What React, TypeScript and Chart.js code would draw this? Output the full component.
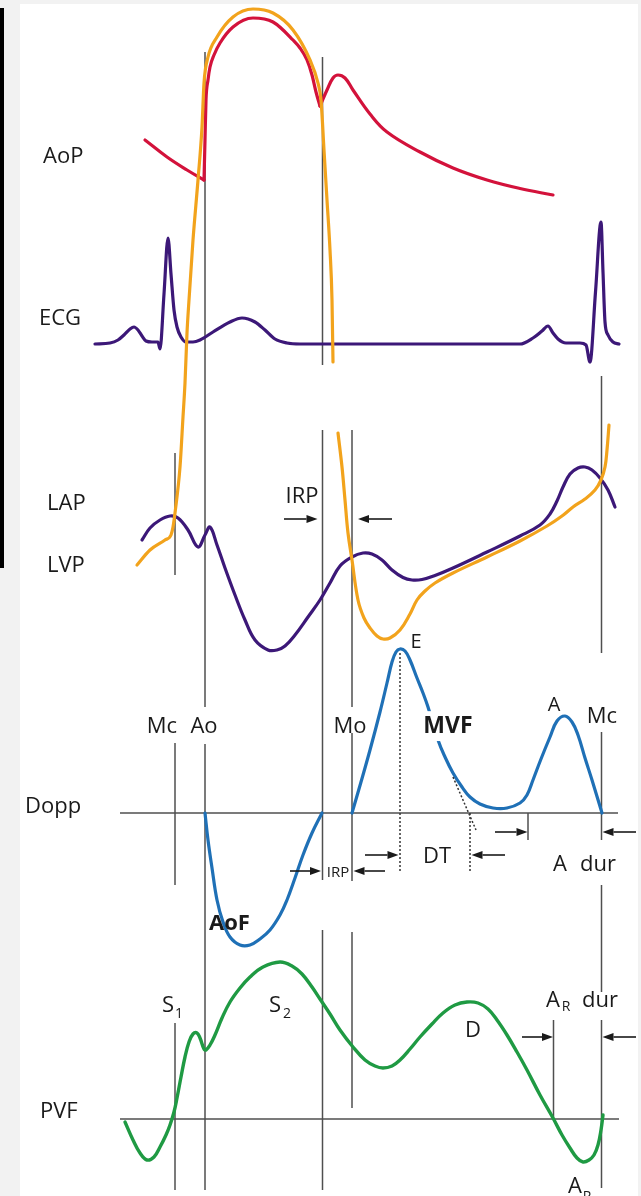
import { useEffect, useRef } from "react";
import { Chart, registerables } from "chart.js";

Chart.register(...registerables);

type Pt = [number, number];

// Cardiac events, ms after mitral valve closure
const MC = 0;
const AO = 60;
const AC = 295;
const MO = 354;
const MC_NEXT = 853;

// Time window shown (ms)
const T_MIN = -350;
const T_MAX = 932;

// Aortic pressure (mmHg-like units)
const aopLateDiastole: Pt[] = [[-60, 104], [-16, 100.6], [24, 98], [58, 96]];
const aopEjection: Pt[] = [
  [58, 96], [60, 104], [62, 112], [66, 116], [70, 118.6], [78, 121], [90, 123.4],
  [116, 126.6], [156, 128.4], [196, 127.6], [236, 124], [250, 122.4], [264, 120],
  [274, 117], [282, 113.6], [290, 110.8],
];
const aopDiastole: Pt[] = [
  [290, 110.8], [304, 114], [316, 116.4], [326, 117], [340, 116.4], [356, 114],
  [390, 109.2], [424, 105.6], [490, 101.6], [556, 98.4], [624, 96], [690, 94.3], [756, 93],
];

// Left ventricular pressure
const lvpSystole: Pt[] = [
  [-76, 19], [-50, 22], [-20, 24], [-8, 25], [-4, 26.6], [0, 29.4], [10, 38.6],
  [16, 48.6], [20, 55.4], [24, 65.4], [28, 72], [36, 84], [46, 96], [54, 106.6],
  [58, 115.4], [66, 120.6], [84, 124.6], [116, 128.6], [156, 130.2], [196, 129.4],
  [236, 126], [270, 120], [286, 115.4], [292, 112], [298, 102], [304, 92], [310, 82],
  [314, 72], [316, 59.6],
];
const lvpDiastole: Pt[] = [
  [326, 45.4], [334, 38.6], [340, 32], [346, 25.4], [354, 20], [366, 12], [378, 8.4],
  [390, 6.4], [404, 4.8], [416, 4.2], [430, 4.4], [450, 6], [470, 9.2], [484, 12],
  [500, 13.8], [520, 15.4], [556, 17.4], [624, 20.6], [690, 23.8], [744, 26.8],
  [774, 28.8], [796, 30.6], [820, 32.2], [840, 34], [852, 36], [860, 38.6], [864, 42],
  [868, 47],
];

// Left atrial pressure
const lap: Pt[] = [
  [-66, 24], [-50, 26.4], [-30, 28], [-10, 28.8], [6, 28.4], [26, 26], [46, 22.6],
  [60, 25], [70, 26.6], [84, 23], [100, 18.4], [120, 13], [140, 8], [160, 4], [186, 2],
  [204, 2], [220, 2.8], [240, 5], [266, 8.6], [290, 12], [310, 15.4], [330, 18.8],
  [354, 20.6], [376, 21.4], [394, 21.2], [414, 20], [434, 18], [456, 16.5], [474, 16],
  [494, 16.1], [520, 16.9], [556, 18.4], [624, 21.6], [690, 24.8], [730, 27], [750, 29.2],
  [764, 31.8], [776, 34.6], [790, 37.2], [806, 38.4], [820, 38.6], [834, 38], [850, 36.4],
  [866, 34], [880, 30.6],
];

// ECG (mV)
const ecg: Pt[] = [
  [-160, 0], [-130, 0.01], [-114, 0.04], [-102, 0.09], [-90, 0.15], [-82, 0.17], [-74, 0.14],
  [-66, 0.08], [-58, 0.03], [-46, 0.02], [-34, 0.02], [-30, -0.05], [-22, 0.5], [-14, 1.06],
  [-8, 0.7], [-2, 0.34], [4, 0.17], [12, 0.07], [22, 0.02], [36, 0.02], [50, 0.04], [76, 0.12],
  [110, 0.22], [134, 0.26], [160, 0.22], [180, 0.14], [200, 0.05], [224, 0.01], [250, 0],
  [690, 0], [716, 0.06], [734, 0.13], [746, 0.18], [756, 0.11], [766, 0.05], [782, 0.01],
  [810, 0.01], [822, -0.01], [830, -0.18], [841, 0.52], [852, 1.22], [856, 0.72], [860, 0.22],
  [866, 0.09], [876, 0.02], [888, 0],
];

// Doppler velocities (cm/s): aortic outflow and mitral inflow
const aorticFlow: Pt[] = [
  [60, 0], [66, -13.5], [74, -27.5], [84, -43.5], [96, -54.5], [110, -62], [130, -66],
  [150, -66], [170, -63], [190, -58.5], [210, -51], [224, -43.5], [240, -32.5], [256, -21],
  [274, -10], [294, 0],
];
const mitralFlow: Pt[] = [
  [354, 0], [372, 15.5], [390, 31.5], [410, 50.5], [424, 65], [434, 75.5], [442, 80.5],
  [450, 82], [460, 81], [470, 76.5], [484, 67.5], [496, 60], [506, 53], [526, 36.5],
  [540, 28], [556, 20], [574, 13], [590, 8], [610, 4.5], [636, 2.5], [664, 2.5], [690, 5],
  [704, 9], [716, 16.5], [732, 27], [750, 38], [764, 46], [780, 48.5], [794, 45.5],
  [806, 39], [820, 27.5], [834, 16.5], [854, 0],
];

// Pulmonary venous flow (cm/s)
const pulmonaryFlow: Pt[] = [
  [-100, -1.2], [-84, -8.4], [-70, -13.6], [-56, -16.4], [-42, -15.2], [-30, -11.2],
  [-18, -6.4], [-10, -2.4], [-2, 2.8], [4, 8.4], [12, 16.8], [20, 24.8], [28, 30.8],
  [36, 34], [44, 34.4], [50, 32.4], [58, 28], [62, 27.6], [70, 29.6], [80, 33.6], [94, 40.4],
  [110, 46.8], [130, 52.4], [150, 56.8], [176, 60.8], [210, 62.8], [234, 61.2], [254, 58],
  [274, 52.8], [290, 48], [310, 42], [330, 35.6], [356, 28.8], [380, 23.6], [400, 21.2],
  [416, 20.4], [434, 21.2], [450, 23.6], [470, 28], [490, 32.8], [514, 38], [536, 42.4],
  [560, 45.6], [584, 46.8], [606, 46.4], [626, 44], [644, 39.6], [664, 33.6], [684, 26.8],
  [704, 19.6], [730, 9.6], [756, 0.4], [774, -6.4], [790, -11.6], [804, -15.6], [816, -17.2],
  [828, -16.4], [838, -14.4], [846, -10.4], [852, -4.4], [856, 1.6],
];

// Guide lines: [time, top row, bottom row] in figure rows
const guideSegments: [number, number, number][] = [
  [MC, 453, 575], [MC, 743, 885], [MC, 1023, 1190],
  [AO, 52, 707], [AO, 744, 1190],
  [AC, 57, 365], [AC, 430, 880], [AC, 930, 1190],
  [MO, 430, 707], [MO, 733, 881], [MO, 932, 1108],
  [MC_NEXT, 376, 653], [MC_NEXT, 732, 840], [MC_NEXT, 885, 992], [MC_NEXT, 1020, 1188],
  [706, 813, 840],
  [757, 1020, 1118],
];
// Zero-velocity baselines: [from, to, axis]
const baselines: [number, number, string][] = [
  [-110, 886, "yD"],
  [-110, 888, "yV"],
];
// Dotted construction lines: [t1, row1, t2, row2]
const dottedLines: [number, number, number, number][] = [
  [450, 653, 450, 872],
  [590, 813, 590, 872],
  [556, 777, 602, 830],
];
// Interval arrows: [from, to, row]
const arrows: [number, number, number][] = [
  [218, 285, 519], [434, 366, 519],
  [230, 292, 871], [420, 357, 871],
  [380, 447, 855], [660, 593, 855],
  [640, 705, 832], [922, 855, 832],
  [694, 756, 1037], [922, 855, 1037],
];

type Label = { text: string; t: number; row: number; size: number; align: CanvasTextAlign; bold?: boolean; mask?: boolean };
const labels: Label[] = [
  { text: "AoP", t: -264, row: 163, size: 22, align: "left" },
  { text: "ECG", t: -272, row: 325, size: 22, align: "left" },
  { text: "LAP", t: -256, row: 510, size: 22, align: "left" },
  { text: "LVP", t: -256, row: 572, size: 22, align: "left" },
  { text: "Dopp", t: -300, row: 813, size: 22, align: "left" },
  { text: "PVF", t: -270, row: 1118, size: 22, align: "left" },
  { text: "IRP", t: 254, row: 503, size: 22, align: "center" },
  { text: "Mc", t: -26, row: 733, size: 22, align: "center" },
  { text: "Ao", t: 58, row: 733, size: 22, align: "center" },
  { text: "Mo", t: 350, row: 733, size: 22, align: "center" },
  { text: "MVF", t: 546, row: 733, size: 23, align: "center", bold: true, mask: true },
  { text: "E", t: 482, row: 648, size: 20, align: "center" },
  { text: "A", t: 758, row: 711, size: 20, align: "center" },
  { text: "Mc", t: 854, row: 723, size: 22, align: "center" },
  { text: "AoF", t: 68, row: 930, size: 22, align: "left", bold: true },
  { text: "DT", t: 524, row: 863, size: 22, align: "center" },
  { text: "IRP", t: 326, row: 877, size: 15, align: "center" },
  { text: "A", t: 770, row: 871, size: 22, align: "center" },
  { text: "dur", t: 846, row: 871, size: 22, align: "center" },
  { text: "S", t: -14, row: 1012, size: 22, align: "center" },
  { text: "1", t: 8, row: 1018, size: 14, align: "center" },
  { text: "S", t: 200, row: 1012, size: 22, align: "center" },
  { text: "2", t: 224, row: 1018, size: 14, align: "center" },
  { text: "D", t: 596, row: 1037, size: 22, align: "center" },
  { text: "A", t: 756, row: 1007, size: 22, align: "center" },
  { text: "R", t: 782, row: 1011, size: 14, align: "center" },
  { text: "dur", t: 850, row: 1007, size: 22, align: "center" },
  { text: "A", t: 800, row: 1193, size: 22, align: "center" },
  { text: "R", t: 824, row: 1201, size: 14, align: "center" },
];

const RED = "#d3123b";
const ORANGE = "#f2a31c";
const PURPLE = "#3c1878";
const BLUE = "#1f70b6";
const GREEN = "#1f9a43";
const GUIDE = "#4f4f4f";
const INK = "#1a1a1a";
const FONT = '"Open Sans", "Noto Sans", sans-serif';

const toXY = (pts: Pt[]) => pts.map(([x, y]) => ({ x, y }));

// smooth = true: cardinal spline; otherwise monotone cubic for steep strokes
const trace = (pts: Pt[], axis: string, color: string, smooth = false, width = 3.2) => ({
  data: toXY(pts),
  yAxisID: axis,
  borderColor: color,
  backgroundColor: color,
  borderWidth: width,
  pointRadius: 0,
  fill: false,
  cubicInterpolationMode: smooth ? ("default" as const) : ("monotone" as const),
  tension: smooth ? 0.4 : 0,
  borderCapStyle: "round" as const,
  borderJoinStyle: "round" as const,
});

const annotations = {
  id: "cycleAnnotations",
  beforeDatasetsDraw(chart: any) {
    const { ctx, scales } = chart;
    const X = (t: number) => scales.x.getPixelForValue(t);
    const R = (r: number) => scales.yL.getPixelForValue(r);
    ctx.save();
    ctx.strokeStyle = GUIDE;
    ctx.lineWidth = 1.5;
    for (const [t, r1, r2] of guideSegments) {
      ctx.beginPath();
      ctx.moveTo(X(t), R(r1));
      ctx.lineTo(X(t), R(r2));
      ctx.stroke();
    }
    for (const [t1, t2, axis] of baselines) {
      const y = scales[axis].getPixelForValue(0);
      ctx.beginPath();
      ctx.moveTo(X(t1), y);
      ctx.lineTo(X(t2), y);
      ctx.stroke();
    }
    ctx.restore();
  },
  afterDatasetsDraw(chart: any) {
    const { ctx, scales } = chart;
    const X = (t: number) => scales.x.getPixelForValue(t);
    const R = (r: number) => scales.yL.getPixelForValue(r);
    ctx.save();

    ctx.strokeStyle = "#333";
    ctx.lineWidth = 1.5;
    ctx.setLineDash([2, 2]);
    for (const [t1, r1, t2, r2] of dottedLines) {
      ctx.beginPath();
      ctx.moveTo(X(t1), R(r1));
      ctx.lineTo(X(t2), R(r2));
      ctx.stroke();
    }
    ctx.setLineDash([]);

    ctx.strokeStyle = INK;
    ctx.fillStyle = INK;
    for (const [t1, t2, r] of arrows) {
      const x1 = X(t1), x2 = X(t2), y = R(r);
      const dir = Math.sign(x2 - x1);
      const head = 11;
      ctx.lineWidth = 1.6;
      ctx.beginPath();
      ctx.moveTo(x1, y);
      ctx.lineTo(x2 - dir * head, y);
      ctx.stroke();
      ctx.beginPath();
      ctx.moveTo(x2, y);
      ctx.lineTo(x2 - dir * head, y - 4);
      ctx.lineTo(x2 - dir * head, y + 4);
      ctx.closePath();
      ctx.fill();
    }

    for (const l of labels) {
      ctx.font = `${l.bold ? "bold " : ""}${l.size}px ${FONT}`;
      ctx.textAlign = l.align;
      ctx.textBaseline = "alphabetic";
      const x = X(l.t), y = R(l.row);
      if (l.mask) {
        const w = ctx.measureText(l.text).width;
        const left = l.align === "center" ? x - w / 2 : x;
        ctx.fillStyle = "#ffffff";
        ctx.fillRect(left - 5, y - l.size * 0.95, w + 10, l.size * 1.3);
      }
      ctx.fillStyle = INK;
      ctx.fillText(l.text, x, y);
    }
    ctx.restore();
  },
};

export default function App() {
  const ref = useRef<HTMLCanvasElement>(null);

  useEffect(() => {
    const canvas = ref.current;
    if (!canvas) return;
    const chart = new Chart(canvas, {
      type: "line",
      data: {
        datasets: [
          trace(lvpSystole, "yP", ORANGE),
          trace(lvpDiastole, "yP", ORANGE, true),
          trace(aopEjection, "yP", RED),
          trace(aopLateDiastole, "yP", RED, true),
          trace(aopDiastole, "yP", RED, true),
          trace(lap, "yP", PURPLE, true),
          trace(ecg, "yE", PURPLE),
          trace(aorticFlow, "yD", BLUE, true),
          trace(mitralFlow, "yD", BLUE, true),
          trace(pulmonaryFlow, "yV", GREEN, true, 3.4),
        ] as any,
      },
      options: {
        responsive: false,
        maintainAspectRatio: false,
        animation: false,
        devicePixelRatio: 1,
        events: [],
        layout: { padding: 0 },
        plugins: {
          legend: { display: false },
          tooltip: { enabled: false },
          title: { display: false },
        },
        scales: {
          x: { type: "linear", min: T_MIN, max: T_MAX, display: false },
          yP: { type: "linear", min: -107.2, max: 132, display: false },
          yE: { type: "linear", min: -8.52, max: 3.44, display: false },
          yD: { type: "linear", min: -191.5, max: 406.5, display: false },
          yV: { type: "linear", min: -30.8, max: 447.6, display: false },
          yL: { type: "linear", min: 0, max: 1196, reverse: true, display: false },
        },
      } as any,
      plugins: [annotations],
    });
    return () => chart.destroy();
  }, []);

  return (
    <div style={{ position: "absolute", left: 0, top: 0, width: 641, height: 1196, background: "#f2f2f2", overflow: "hidden" }}>
      <div style={{ position: "absolute", left: 0, top: 8, width: 4, height: 560, background: "#000" }} />
      <div style={{ position: "absolute", left: 20, top: 4, width: 618, height: 1192, background: "#fff" }} />
      <canvas ref={ref} width={641} height={1196} style={{ position: "absolute", left: 0, top: 0 }} />
    </div>
  );
}
